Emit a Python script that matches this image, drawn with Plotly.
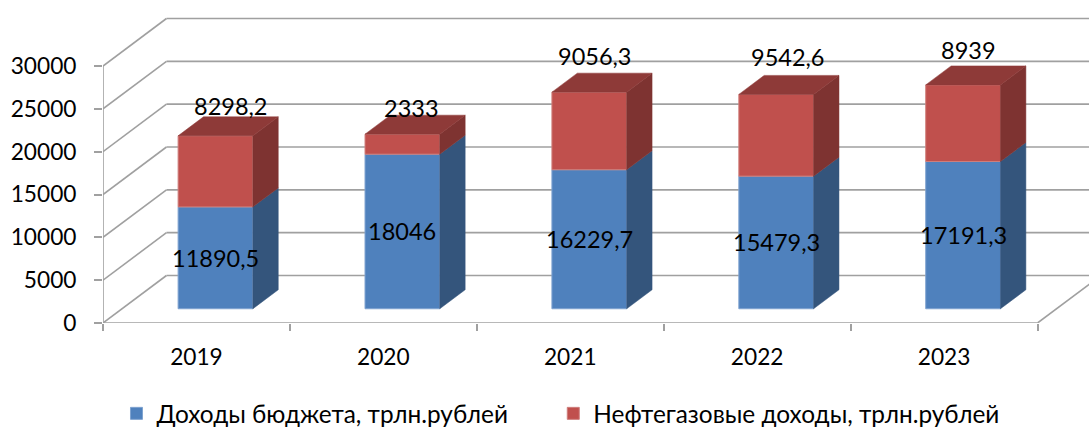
import plotly.graph_objects as go

years = ["2019", "2020", "2021", "2022", "2023"]
budget = [11890.5, 18046, 16229.7, 15479.3, 17191.3]
oil_gas = [8298.2, 2333, 9056.3, 9542.6, 8939]
y_ticks = [0, 5000, 10000, 15000, 20000, 25000, 30000]
series_names = ["Доходы бюджета, трлн.рублей", "Нефтегазовые доходы, трлн.рублей"]
# how far the hand-moved upper labels sit from the stack's top, px (dx, dy)
top_label_shift = [(15, 30), (9, 26), (5, 36), (11, 37), (5, 35)]

W, H = 1089, 428
ML, MB = 102.5, 105
CAT_PX = 187
VAL_PX = 257 / 30000
DEPTH_X_PX, DEPTH_Y_PX = 63.5, 47.5
FONT = "Lato, 'Noto Sans', sans-serif"
GRID = "#A0A0A0"
LABEL_SIZE = 23.5
AXIS_SIZE = 22.7
LEGEND_SIZE = 24.4

depth_x = DEPTH_X_PX / CAT_PX
depth_y = DEPTH_Y_PX / VAL_PX
x_max = (W - ML) / CAT_PX
y_max = (H - MB) / VAL_PX
n = len(years)
d0, d1 = 0.3, 0.7
bar_w = 0.4

fig = go.Figure()

# Walls and floor of the 3D box
line = dict(color=GRID, width=1.6)
shapes = []
for v in y_ticks:
    shapes.append(dict(type="line", xref="x", yref="y", x0=0, y0=v, x1=depth_x, y1=v + depth_y, line=line, layer="below"))
    shapes.append(dict(type="line", xref="x", yref="y", x0=depth_x, y0=v + depth_y, x1=n + depth_x, y1=v + depth_y, line=line, layer="below"))
shapes.append(dict(type="line", xref="x", yref="y", x0=0, y0=0, x1=0, y1=y_ticks[-1], line=line, layer="below"))
shapes.append(dict(type="line", xref="x", yref="y", x0=0, y0=0, x1=n, y1=0, line=line, layer="below"))
shapes.append(dict(type="line", xref="x", yref="y", x0=n, y0=0, x1=n + depth_x, y1=depth_y, line=line, layer="below"))

centers = [i + 0.5 + d0 * depth_x for i in range(n)]
floor = d0 * depth_y
fig.add_bar(x=centers, y=budget, base=[floor] * n, width=bar_w, name=series_names[0], legend="legend",
            marker=dict(color="#4F81BD", line=dict(color="#7FA3D0", width=1)), hoverinfo="skip")
tops = [b + floor for b in budget]
fig.add_bar(x=centers, y=oil_gas, base=tops, width=bar_w, name=series_names[1], legend="legend2",
            marker=dict(color="#C0504D", line=dict(color="#CF7F7C", width=1)), hoverinfo="skip")

dd_x = (d1 - d0) * depth_x
dd_y = (d1 - d0) * depth_y


def add_poly(xs, ys, color):
    fig.add_scatter(x=xs, y=ys, mode="lines", fill="toself", fillcolor=color,
                    line=dict(color=color, width=0.5), showlegend=False, hoverinfo="skip")


for i in range(n):
    xl = centers[i] - bar_w / 2
    xr = centers[i] + bar_w / 2
    y0, y1 = floor, tops[i]
    y2 = y1 + oil_gas[i]
    add_poly([xr, xr + dd_x, xr + dd_x, xr, xr], [y0, y0 + dd_y, y1 + dd_y, y1, y0], "#34557C")
    add_poly([xr, xr + dd_x, xr + dd_x, xr, xr], [y1, y1 + dd_y, y2 + dd_y, y2, y1], "#7E3331")
    add_poly([xl, xr, xr + dd_x, xl + dd_x, xl], [y2, y2, y2 + dd_y, y2 + dd_y, y2], "#8E3A38")


def fmt(v):
    return str(v).replace(".", ",")


ann = []
for i in range(n):
    ann.append(dict(x=centers[i], y=floor + budget[i] / 2, text=fmt(budget[i]), xref="x", yref="y",
                    showarrow=False, font=dict(family=FONT, size=LABEL_SIZE, color="black")))
    sx, sy = top_label_shift[i]
    ann.append(dict(x=centers[i], y=tops[i] + oil_gas[i], text=fmt(oil_gas[i]), xref="x", yref="y",
                    xshift=sx, yshift=sy, showarrow=False, font=dict(family=FONT, size=LABEL_SIZE, color="black")))


def legend_at(px):
    return dict(orientation="h", x=(px - ML) / (W - ML), xanchor="left",
                y=-(413.5 - (H - MB)) / (H - MB), yanchor="middle",
                font=dict(family=FONT, size=LEGEND_SIZE, color="black"), bgcolor="rgba(0,0,0,0)")


fig.update_layout(
    width=W, height=H, autosize=False,
    margin=dict(l=ML, r=0, t=0, b=MB, pad=0, autoexpand=False),
    paper_bgcolor="white", plot_bgcolor="white",
    barmode="overlay", shapes=shapes, annotations=ann,
    font=dict(family=FONT, size=AXIS_SIZE, color="black"),
    showlegend=True,
    legend=legend_at(116), legend2=legend_at(553),
    xaxis=dict(range=[0, x_max], tickmode="array", tickvals=[i + 0.5 for i in range(n)], ticktext=years,
               ticks="", showgrid=False, zeroline=False, showline=False, ticklabelstandoff=18,
               minor=dict(tickmode="array", tickvals=list(range(n + 1)), ticks="outside", ticklen=7,
                          tickcolor=GRID, tickwidth=1.6, showgrid=False),
               tickfont=dict(family=FONT, size=AXIS_SIZE, color="black")),
    yaxis=dict(range=[0, y_max], tickmode="array", tickvals=y_ticks, tickformat="d", ticks="outside", ticklen=8,
               tickcolor=GRID, tickwidth=1.6, showgrid=False, zeroline=False, showline=False,
               ticklabelstandoff=13, tickfont=dict(family=FONT, size=AXIS_SIZE, color="black")),
)
fig.write_html("out.html", config=dict(displayModeBar=False),
               post_script="document.body.style.margin='0';document.body.style.overflow='hidden';")
